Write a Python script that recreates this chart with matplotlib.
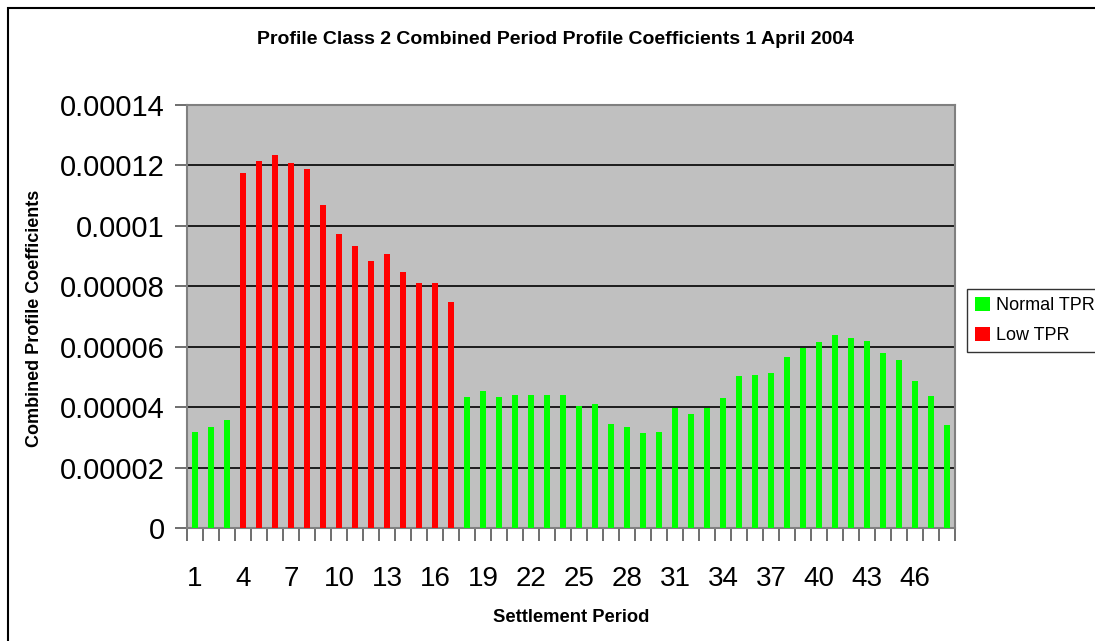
# Profile Class 2 combined period profile coefficients, bar chart by settlement period
import numpy as np
import matplotlib.pyplot as plt
from matplotlib.patches import Rectangle

plt.rcParams['font.family'] = ['Liberation Sans', 'DejaVu Sans']

periods = list(range(1, 49))
coefficients = [
    3.18e-5, 3.34e-5, 3.58e-5, 11.75e-5, 12.16e-5, 12.33e-5, 12.09e-5, 11.89e-5,
    10.70e-5, 9.74e-5, 9.34e-5, 8.84e-5, 9.07e-5, 8.48e-5, 8.11e-5, 8.11e-5,
    7.48e-5, 4.34e-5, 4.54e-5, 4.34e-5, 4.40e-5, 4.40e-5, 4.40e-5, 4.40e-5,
    4.04e-5, 4.11e-5, 3.44e-5, 3.34e-5, 3.15e-5, 3.18e-5, 3.97e-5, 3.77e-5,
    3.97e-5, 4.30e-5, 5.03e-5, 5.06e-5, 5.13e-5, 5.66e-5, 5.96e-5, 6.16e-5,
    6.39e-5, 6.29e-5, 6.19e-5, 5.79e-5, 5.56e-5, 4.87e-5, 4.37e-5, 3.41e-5,
]
low_tpr_periods = list(range(4, 18))
y_ticks = [0, 0.00002, 0.00004, 0.00006, 0.00008, 0.0001, 0.00012, 0.00014]
y_tick_labels = ['0', '0.00002', '0.00004', '0.00006', '0.00008', '0.0001', '0.00012', '0.00014']
x_tick_labels = [str(p) for p in periods[::3]]

W, H = 1095, 641
fig = plt.figure(figsize=(W / 100, H / 100), dpi=100)
ax = fig.add_axes([187 / W, 1 - 528 / H, (955 - 187) / W, (528 - 105) / H])
ax.set_facecolor('#C0C0C0')

x = np.array(periods)
vals = np.array(coefficients)
is_low = np.isin(x, low_tpr_periods)

ax.bar(x[~is_low], vals[~is_low], width=0.37, color='#00FF00', label='Normal TPR', zorder=3)
ax.bar(x[is_low], vals[is_low], width=0.37, color='#FF0000', label='Low TPR', zorder=3)

ax.set_xlim(0.5, 48.5)
ax.set_ylim(0, 0.00014)

# y axis
ax.set_yticks(y_ticks)
ax.set_yticklabels(y_tick_labels)
ax.yaxis.grid(True, color='black', linewidth=1.2, zorder=1)
ax.set_axisbelow(True)
ax.tick_params(axis='y', direction='out', length=9, width=1.2, color='#555555',
               labelsize=21, pad=7)

# x axis: ticks at boundaries, labels every 3rd period
ax.set_xticks(np.arange(0.5, 49, 1))
ax.set_xticklabels([])
ax.set_xticks(x[::3], minor=True)
ax.set_xticklabels(x_tick_labels, minor=True)
ax.tick_params(axis='x', which='major', direction='out', length=9, width=1.2, color='#555555')
ax.tick_params(axis='x', which='minor', length=0, labelsize=20, pad=27.5)

for side in ['left', 'bottom', 'top', 'right']:
    ax.spines[side].set_color('#808080')
    ax.spines[side].set_linewidth(1.5)

fig.text(555 / W, 1 - 40 / H, 'Profile Class 2 Combined Period Profile Coefficients 1 April 2004',
         ha='center', va='center', fontsize=14, fontweight='bold')
fig.text(571 / W, 1 - 617 / H, 'Settlement Period', ha='center', va='center',
         fontsize=13.2, fontweight='bold')
fig.text(35 / W, 1 - 318 / H, 'Combined Profile Coefficients', ha='center', va='center',
         rotation=90, fontsize=13, fontweight='bold')

leg = fig.legend(loc='upper left', bbox_to_anchor=(967 / W, 1 - 289 / H), fontsize=13,
                 frameon=True, fancybox=False, handlelength=0.8, handleheight=0.8,
                 handletextpad=0.35, borderpad=0.45, labelspacing=0.7, borderaxespad=0)
leg.get_frame().set_edgecolor('black')
leg.get_frame().set_linewidth(1)

# outer chart border (runs off the right and bottom edges)
fig.patches.append(Rectangle((8 / W, -0.1), 1.2, 1 - 8 / H + 0.1, transform=fig.transFigure,
                             fill=False, edgecolor='black', linewidth=1.5))

fig.savefig('out.png', dpi=100)
